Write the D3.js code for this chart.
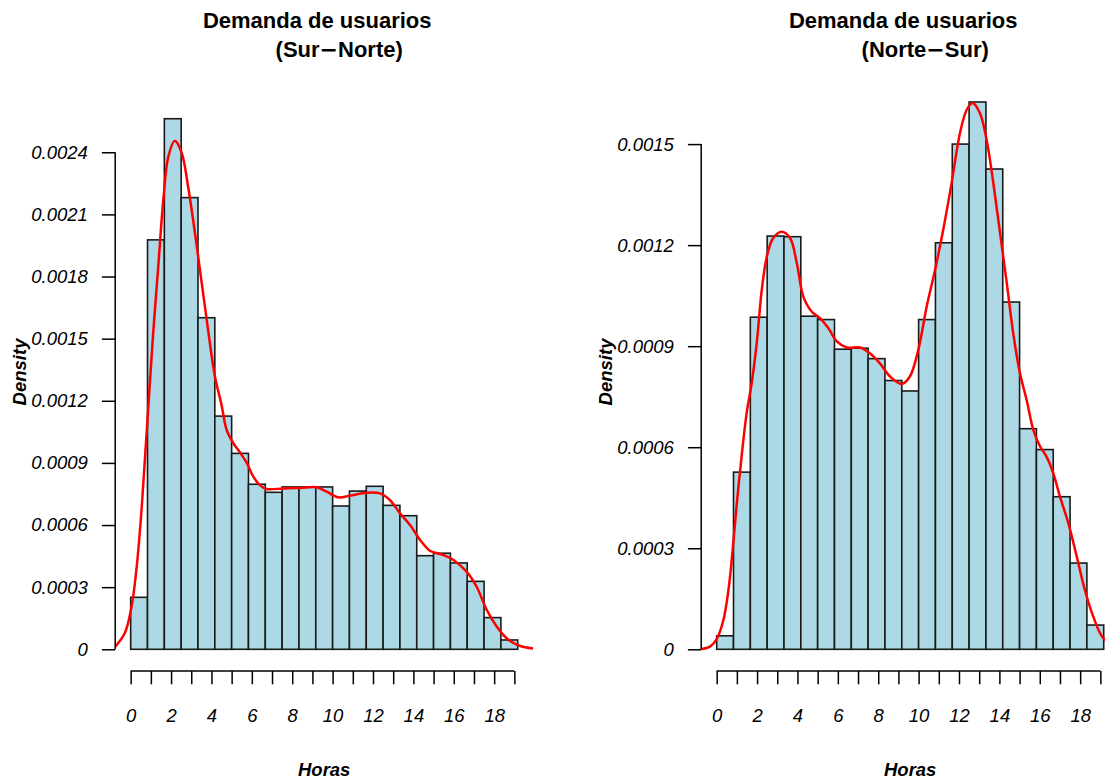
<!DOCTYPE html>
<html><head><meta charset="utf-8">
<script src="https://cdn.jsdelivr.net/npm/d3@7"></script>
<style>body{margin:0;background:#fff} svg{display:block}</style>
</head><body><svg id="chart" width="1105" height="780"></svg>
<script>
// ---------- data (minutes since start of service, 50-minute bins) ----------
const binStarts = [0,50,100,150,200,250,300,350,400,450,500,550,600,650,700,750,800,850,900,950,1000,1050,1100];
const binWidth = 50;
const densSurNorte = [0.000251,0.001977,0.002562,0.002181,0.001601,0.001126,0.000946,0.000797,0.000758,0.000784,0.000784,0.000784,0.000692,0.000764,0.000787,0.000695,0.000645,0.000452,0.000464,0.000417,0.000328,0.000153,0.000045];
const densNorteSur = [0.00004,0.000526,0.000986,0.001227,0.001225,0.000989,0.000979,0.000891,0.000894,0.000863,0.000798,0.000767,0.000979,0.001207,0.0015,0.001625,0.001426,0.001031,0.000655,0.000593,0.000453,0.000256,0.000072];

const kdeXSurNorte = [-46,-17,3,18,33,48,67,82,97,112,131,151,171,191,211,231,250,270,285,305,325,345,364,384,404,453,503,553,582,617,652,701,741,770,800,830,860,889,929,959,998,1028,1058,1088,1117,1155,1196];
const kdeYSurNorte = [0.000013,0.00008,0.00021,0.0004,0.00069,0.00106,0.00153,0.00185,0.00217,0.00238,0.002455,0.0024,0.00223,0.00201,0.00177,0.00153,0.00132,0.00118,0.00106,0.000995,0.00095,0.0009,0.000835,0.000793,0.000774,0.000777,0.000779,0.000782,0.000761,0.000734,0.000742,0.000756,0.000753,0.000721,0.000657,0.0006,0.000528,0.000476,0.000455,0.000431,0.000375,0.000302,0.00019,0.000109,0.000053,0.000017,0.000004];

const kdeXNorteSur = [-46,-20,0,20,35,47.5,59,74,89,104,119,134,149,168,193,218,238,257.5,282,307,332,357,386,426,455,485,515,550,574,599,624,649,673,698,723,743,761,782,802,822,842,862,881,901,921,941,961,980,1000,1020,1045,1070,1094,1119,1149,1196];
const kdeYNorteSur = [0.0000005,0.000008,0.00003,0.000087,0.000176,0.000295,0.000424,0.000572,0.000701,0.00079,0.000909,0.001067,0.001166,0.001221,0.00124,0.001221,0.001147,0.001047,0.001003,0.000983,0.000953,0.000914,0.000896,0.000896,0.000879,0.000849,0.00081,0.000788,0.00081,0.000889,0.001018,0.001127,0.001245,0.001384,0.001533,0.001602,0.001622,0.001592,0.001513,0.001384,0.001236,0.001087,0.000939,0.00082,0.00074,0.000651,0.000602,0.000572,0.000523,0.000453,0.000374,0.000275,0.000176,0.000097,0.000033,0.000004];

const hourTicks = [0,1,2,3,4,5,6,7,8,9,10,11,12,13,14,15,16,17,18,19];
const hourLabels = ["0","","2","","4","","6","","8","","10","","12","","14","","16","","18",""];
const yTicksSurNorte = [0,0.0003,0.0006,0.0009,0.0012,0.0015,0.0018,0.0021,0.0024];
const yTicksNorteSur = [0,0.0003,0.0006,0.0009,0.0012,0.0015];
const yMaxSurNorte = 0.00262;
const yMaxNorteSur = 0.001611;

const titleMain = "Demanda de usuarios";
const titleSubParts = [["(Sur", "\u2212", "Norte)"], ["(Norte", "\u2212", "Sur)"]];
const xLabel = "Horas";
const yLabel = "Density";

// ---------- layout ----------
const FONT = "'Liberation Sans', Arial, Helvetica, sans-serif";
const BASE = 18.5;
const panelW = 586;
const margin = {left: 115.2, top: 85, plotW: 418, plotH: 586};
const svg = d3.select("#chart");
svg.append("rect").attr("width",1105).attr("height",780).attr("fill","#fff");

const panels = [
  {bins: densSurNorte, kx: kdeXSurNorte, ky: kdeYSurNorte, yticks: yTicksSurNorte, ymax: yMaxSurNorte, sub: titleSubParts[0]},
  {bins: densNorteSur, kx: kdeXNorteSur, ky: kdeYNorteSur, yticks: yTicksNorteSur, ymax: yMaxNorteSur, sub: titleSubParts[1]}
];

panels.forEach((p, i) => {
  const g = svg.append("g").attr("transform", `translate(${i*panelW},0)`);
  const x0 = margin.left, x1 = margin.left + margin.plotW;
  const yTop = margin.top, yBot = margin.top + margin.plotH;
  const lo = binStarts[0], hi = binStarts[binStarts.length-1] + binWidth;
  const pad = 0.04*(hi-lo);
  const x = d3.scaleLinear().domain([lo-pad, hi+pad]).range([x0, x1]);
  const y = d3.scaleLinear().domain([-0.04*p.ymax, 1.04*p.ymax]).range([yBot, yTop]);

  const clipId = "clip"+i;
  g.append("clipPath").attr("id", clipId).append("rect")
    .attr("x", x0).attr("y", yTop).attr("width", x1-x0).attr("height", yBot-yTop);

  // bars
  g.append("g").attr("clip-path", `url(#${clipId})`)
    .selectAll("rect").data(binStarts.map((b,k)=>({b, d:p.bins[k]}))).join("rect")
    .attr("x", d=>x(d.b)).attr("width", d=>x(d.b+binWidth)-x(d.b))
    .attr("y", d=>y(d.d)).attr("height", d=>y(0)-y(d.d))
    .attr("fill", "#ADD8E6").attr("stroke", "#1a1a1a").attr("stroke-width", 1.6);

  // density curve
  const pts = p.kx.map((v,k)=>[v, p.ky[k]]);
  g.append("path").attr("clip-path", `url(#${clipId})`)
    .attr("d", d3.line().x(d=>x(d[0])).y(d=>y(d[1])).curve(d3.curveCatmullRom)(pts))
    .attr("fill","none").attr("stroke","#FF0000").attr("stroke-width",2.5);

  // x axis (hours -> minutes)
  const xa = d3.axisBottom(x).tickValues(hourTicks.map(h=>h*60))
    .tickFormat((d,k)=>hourLabels[k]).tickSizeInner(13.3).tickSizeOuter(0).tickPadding(15);
  const gx = g.append("g").attr("transform", `translate(0,${yBot})`).call(xa);
  gx.select(".domain").attr("d", `M${x(hourTicks[0]*60)},0H${x(hourTicks[hourTicks.length-1]*60)}`)
    .attr("stroke","#000").attr("stroke-width",1.5);
  gx.selectAll(".tick line").attr("stroke","#000").attr("stroke-width",1.5);
  gx.selectAll(".tick text").attr("font-family",FONT).attr("font-style","italic")
    .attr("font-size",BASE).attr("fill","#000").attr("dy","1.2em");

  // y axis
  const ya = d3.axisLeft(y).tickValues(p.yticks)
    .tickFormat(d=> d===0 ? "0" : d.toFixed(4)).tickSizeInner(13.3).tickSizeOuter(0).tickPadding(14);
  const gy = g.append("g").attr("transform", `translate(${x0},0)`).call(ya);
  gy.select(".domain").attr("d", `M0,${y(p.yticks[0])}V${y(p.yticks[p.yticks.length-1])}`)
    .attr("stroke","#000").attr("stroke-width",1.5);
  gy.selectAll(".tick line").attr("stroke","#000").attr("stroke-width",1.5);
  gy.selectAll(".tick text").attr("font-family",FONT).attr("font-style","italic")
    .attr("font-size",BASE).attr("fill","#000");

  // titles
  const cx = (x0+x1)/2;
  g.append("text").attr("x", cx-7).attr("y", 28).attr("text-anchor","middle")
    .attr("font-family",FONT).attr("font-weight","bold").attr("font-size",22).text(titleMain);
  const sub = g.append("text").attr("x", cx+15).attr("y", 57).attr("text-anchor","middle")
    .attr("font-family",FONT).attr("font-weight","bold").attr("font-size",22);
  sub.append("tspan").text(p.sub[0]);
  sub.append("tspan").attr("font-family","'DejaVu Sans', sans-serif").text(p.sub[1]);
  sub.append("tspan").text(p.sub[2]);

  // axis labels
  g.append("text").attr("x", cx).attr("y", 776).attr("text-anchor","middle")
    .attr("font-family",FONT).attr("font-weight","bold").attr("font-style","italic")
    .attr("font-size",BASE).text(xLabel);
  g.append("text").attr("transform", `translate(26,${(yTop+yBot)/2 - 6}) rotate(-90)`)
    .attr("text-anchor","middle")
    .attr("font-family",FONT).attr("font-weight","bold").attr("font-style","italic")
    .attr("font-size",BASE).text(yLabel);
});
</script></body></html>
